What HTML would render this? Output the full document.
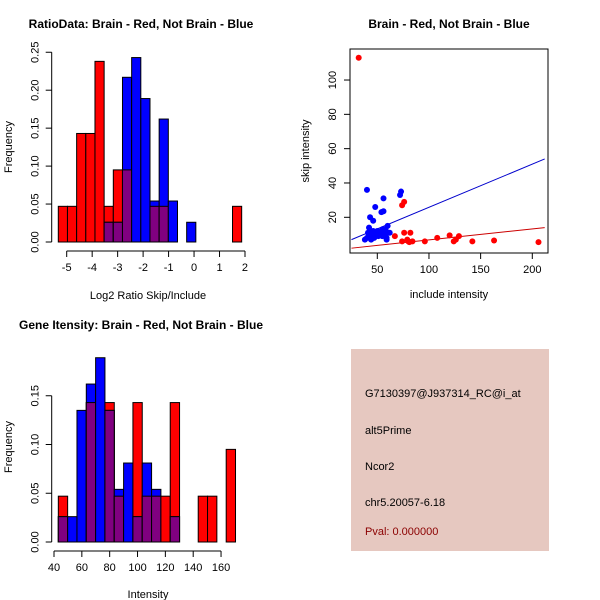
<!DOCTYPE html>
<html><head><meta charset="utf-8"><style>
body{margin:0;background:#fff;}
svg{display:block;font-family:"Liberation Sans",sans-serif;}
text{font-size:11px;}
.t{font-weight:bold;font-size:12px;}
</style></head><body>
<svg id="c" width="600" height="600" xmlns="http://www.w3.org/2000/svg">
<rect x="351" y="349" width="198" height="202" fill="#e6c8c0"/>
<text x="365" y="397">G7130397@J937314_RC@i_at</text>
<text x="365" y="434">alt5Prime</text>
<text x="365" y="470">Ncor2</text>
<text x="365" y="506">chr5.20057-6.18</text>
<text x="365" y="535" fill="#8b0000">Pval: 0.000000</text>
</svg>
<script>
// ---- data: ratio histogram ----
const ratioRed = [0.047,0.047,0.143,0.143,0.238,0.047,0.095,0.095,0,0,0.047,0.047,0,0,0,0,0,0,0,0.047];
const ratioBlue = [0,0,0,0,0,0.026,0.026,0.217,0.243,0.189,0.054,0.162,0.054,0,0.026,0,0,0,0,0];
const ratioStart = -5.33, ratioBin = 0.36;
const ratioXTicks = [-5,-4,-3,-2,-1,0,1,2];
const ratioYTicks = ["0.00","0.05","0.10","0.15","0.20","0.25"];
// ---- data: intensity histogram ----
const intRed = [0.047,0,0,0.143,0,0.143,0.047,0,0.143,0.047,0.047,0.047,0.143,0,0,0.047,0.047,0,0.095];
const intBlue = [0.026,0.026,0.135,0.162,0.189,0.135,0.054,0.081,0.026,0.081,0.054,0,0.026,0,0,0,0,0,0];
const intStart = 43.1, intBin = 6.7;
const intXTicks = [40,60,80,100,120,140,160];
const intYTicks = ["0.00","0.05","0.10","0.15"];
// ---- data: scatter ----
const blueInc = [40,42,43,46,48,54,56,56,72,73,60,58,55,38,40,42,44,45,46,47,48,50,51,52,53,54,55,57,59,59,60,62,44,49,41,43];
const blueSkip = [36,14,20,18,26,23,23.5,31,33,35,15,13,13,7,8,9,10,11,12,8,11,12,9,10,11,12,9,11,8,7,11,11,7,10,11,12];
const redInc = [32,74,76,67,74,76,79,80,82,81,84,96,108,120,124,126,129,142,163,206];
const redSkip = [113,27,29,9,6,11,7,6,11,5.5,6,6,8,9.5,6,7,9,6,6.5,5.5];
const blueLine = [[25,7],[212,54]];
const redLine = [[25,2],[212,14]];
const scXTicks = [50,100,150,200];
const scYTicks = [20,40,60,80,100];

const svg = document.getElementById('c');
const NS = 'http://www.w3.org/2000/svg';
function mk(tag, a, parent){const e=document.createElementNS(NS,tag);for(const k in a)e.setAttribute(k,a[k]);(parent||svg).appendChild(e);return e;}
function txt(x,y,s,a){const e=mk('text',Object.assign({x:x,y:y,'text-anchor':'middle'},a||{}));e.textContent=s;return e;}

function hist(red, blue, start, bin, xs, ys, yVal0, yPx0, yScale, xTicks, yTicks, yTickVals, axY, axX, pre){
  const g = mk('g',{});
  
  
  const X = v => xs[0] + (v - xs[1]) * xs[2];
  const Y = v => yPx0 - v * yScale;
  const n = Math.max(red.length, blue.length);
  for(let i=0;i<n;i++){
    const x0=X(start+i*bin), w=X(start+(i+1)*bin)-x0;
    const r=red[i]||0, b=blue[i]||0, m=Math.min(r,b);
    [[r,'#ff0000','red'],[b,'#0000ff','blue'],[m,'#800080','overlap']].forEach(([v,c,nm])=>{
      if(v<=0) return;
      const e=mk('rect',{x:x0,y:Y(v),width:w,height:v*yScale,fill:c,stroke:'#000','stroke-width':1},g);
      
      
    });
  }
  // x axis
  const xa=mk('g',{});
  
  
  mk('line',{x1:X(xTicks[0]),x2:X(xTicks[xTicks.length-1]),y1:axY,y2:axY,stroke:'#000'},xa);
  xTicks.forEach(t=>{mk('line',{x1:X(t),x2:X(t),y1:axY,y2:axY+6,stroke:'#000'},xa);const e=txt(X(t),axY+20,String(t),{});xa.appendChild(e);});
  // y axis
  const ya=mk('g',{});
  
  
  mk('line',{x1:axX,x2:axX,y1:Y(yTickVals[0]),y2:Y(yTickVals[yTickVals.length-1]),stroke:'#000'},ya);
  yTickVals.forEach((t,i)=>{mk('line',{x1:axX-6,x2:axX,y1:Y(t),y2:Y(t),stroke:'#000'},ya);const e=txt(axX-13,Y(t),yTicks[i],{transform:'rotate(-90 '+(axX-13)+' '+Y(t)+')'});ya.appendChild(e);});
}

// ratio histogram: -5 at 66.7, 25.47 px/unit; 0 at y 242, 759px/unit
hist(ratioRed, ratioBlue, ratioStart, ratioBin, [66.7,-5,25.47], null, 0, 242, 759,
  ratioXTicks, ratioYTicks, ratioYTicks.map(Number), 251, 51.7, 'ratio');
// intensity histogram: 40 at 54, 1.392 px/unit; 0 at 542, 975px/unit
hist(intRed, intBlue, intStart, intBin, [54,40,1.392], null, 0, 542, 975,
  intXTicks, intYTicks, intYTicks.map(Number), 551, 51.7, 'intensity');

// titles & labels
[[141,28,'RatioData: Brain - Red, Not Brain - Blue','ratio-title'],
 [449,28,'Brain - Red, Not Brain - Blue','scatter-title'],
 [141,329,'Gene Itensity: Brain - Red, Not Brain - Blue','intensity-title']].forEach(([x,y,s,n])=>{
  const e=txt(x,y,s,{class:'t'});
  
  
});
[[148,299,'Log2 Ratio Skip/Include','ratio-x-title',0],
 [148,598,'Intensity','intensity-x-title',0],
 [449,298,'include intensity','scatter-x-title',0]].forEach(([x,y,s,n])=>{
  const e=txt(x,y,s,{});
  
  
});
[[12,147,'Frequency','ratio-y-title'],[12,447,'Frequency','intensity-y-title'],[309,151,'skip intensity','scatter-y-title']].forEach(([x,y,s,n])=>{
  const e=txt(x,y,s,{transform:'rotate(-90 '+x+' '+y+')'});
  
  
});

// scatter
const SX = v => 377.3 + (v-50)*1.0333;
const SY = v => 217.3 - (v-20)*1.716;
const sg = mk('g',{});


const box = mk('rect',{x:350,y:49,width:198,height:204,fill:'none',stroke:'#000'},sg);


const cp = mk('clipPath',{id:'cp'},sg); mk('rect',{x:350,y:49,width:198,height:204},cp);
[[blueLine,'#0000cc','blue-fit-line'],[redLine,'#cc0000','red-fit-line']].forEach(([L,c,n])=>{
  const e=mk('line',{x1:SX(L[0][0]),y1:SY(L[0][1]),x2:SX(L[1][0]),y2:SY(L[1][1]),stroke:c,'clip-path':'url(#cp)'},sg);
  
  
});
blueInc.forEach((v,i)=>{
  const e=mk('circle',{cx:SX(v),cy:SY(blueSkip[i]),r:3,fill:'#0000ff'},sg);
  
  
});
redInc.forEach((v,i)=>{
  const e=mk('circle',{cx:SX(v),cy:SY(redSkip[i]),r:3,fill:'#ff0000'},sg);
  
  
});
const sxa=mk('g',{});


mk('line',{x1:SX(scXTicks[0]),x2:SX(scXTicks[scXTicks.length-1]),y1:253,y2:253,stroke:'#000'},sxa);
scXTicks.forEach(t=>{mk('line',{x1:SX(t),x2:SX(t),y1:253,y2:259,stroke:'#000'},sxa);sxa.appendChild(txt(SX(t),273,String(t),{}));});
const sya=mk('g',{});


mk('line',{x1:350,x2:350,y1:SY(scYTicks[0]),y2:SY(scYTicks[scYTicks.length-1]),stroke:'#000'},sya);
scYTicks.forEach(t=>{mk('line',{x1:344,x2:350,y1:SY(t),y2:SY(t),stroke:'#000'},sya);sya.appendChild(txt(336,SY(t),String(t),{transform:'rotate(-90 336 '+SY(t)+')'}));});
</script>
</body></html>
